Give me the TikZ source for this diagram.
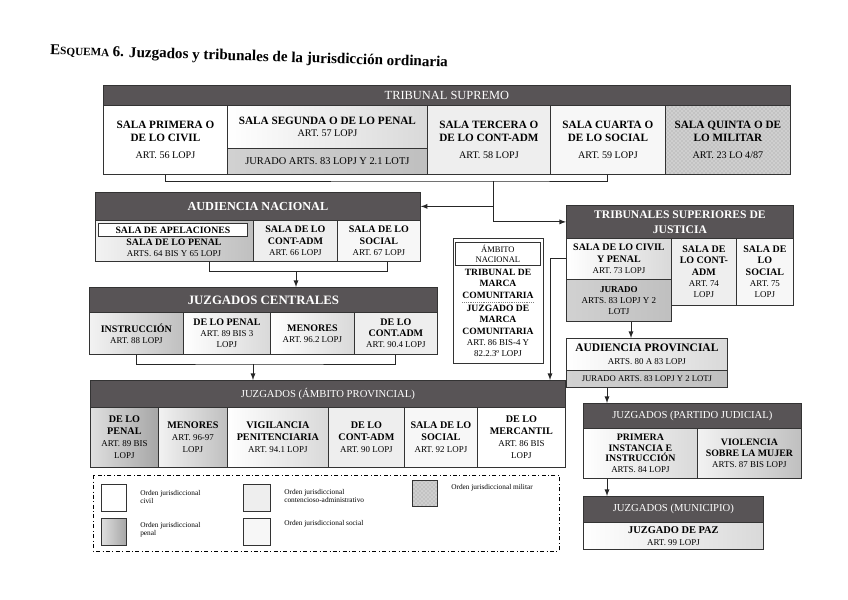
\documentclass[tikz,border=0pt]{standalone}
\usepackage{fontspec}
\setmainfont{Liberation Serif}
\usetikzlibrary{patterns,calc}

\definecolor{hdr}{RGB}{88,84,86}
\newcommand\artline[1]{{\fontsize{6.7}{7.6}\selectfont\mdseries #1}}
\newcommand\artlinets[1]{{\fontsize{7.6}{8.6}\selectfont\mdseries #1}}

\tikzset{
  box/.style={draw=black!80, line width=0.6pt, anchor=north west, inner sep=0.5pt, align=center, font=\fontsize{7.5}{8.4}\selectfont\bfseries},
  tsbox/.style={box, font=\fontsize{8.4}{9.6}\selectfont\bfseries},
  cw/.style={minimum width=#1*0.75pt},
  ch/.style={minimum height=#1*0.75pt},
  head/.style={box, fill=hdr, text=white, font=\fontsize{8}{9.4}\selectfont},
  civil/.style={fill=white},
  penal/.style={left color=gray!10, right color=gray!50},
  penaldark/.style={left color=gray!25, right color=gray!70},
  penallight/.style={left color=white, right color=gray!30},
  jurado/.style={left color=gray!36, right color=gray!50},
  contadm/.style={fill=gray!13},
  social/.style={fill=gray!6},
  militar/.style={preaction={fill=gray!38}, pattern=crosshatch dots, pattern color=gray!75},
  legtext/.style={anchor=west, align=left, inner sep=0pt, font=\fontsize{5.5}{6.3}\selectfont},
  link/.style={draw=black!85, line width=0.7pt},
  arr/.style={link, -latex},
}

\begin{document}
\begin{tikzpicture}[x=0.75pt,y=0.75pt,yscale=-1,xscale=1]
\useasboundingbox (0,0) rectangle (848,599);

% Title
\node [anchor=west, rotate=-1.8, inner sep=0pt, font=\bfseries] (title) at (50,51) {{\fontsize{11.3}{13}\selectfont E}{\fontsize{8.4}{13}\selectfont SQUEMA} {\fontsize{11.3}{13}\selectfont 6. Juzgados y tribunales de la jurisdicción ordinaria}};

% Tribunal Supremo
\node [head, cw=687, ch=20, font=\fontsize{9.3}{10}\selectfont] (ts) at (103,85) {TRIBUNAL SUPREMO};
\node [tsbox, civil, cw=124, ch=69] (ts1) at (103,105) {SALA PRIMERA O\\DE LO CIVIL\\[3pt]\artlinets{ART. 56 LOPJ}};
\node [tsbox, penallight, cw=200, ch=43] (ts2) at (227,105) {SALA SEGUNDA O DE LO PENAL\\\artlinets{ART. 57 LOPJ}};
\node [tsbox, jurado, cw=200, ch=26, font=\fontsize{7.8}{9}\selectfont] (ts2j) at (227,148) {JURADO ARTS. 83 LOPJ Y 2.1 LOTJ};
\node [tsbox, contadm, cw=123, ch=69] (ts3) at (427,105) {SALA TERCERA O\\DE LO CONT-ADM\\[3pt]\artlinets{ART. 58 LOPJ}};
\node [tsbox, social, cw=115, ch=69] (ts4) at (550,105) {SALA CUARTA O\\DE LO SOCIAL\\[3pt]\artlinets{ART. 59 LOPJ}};
\node [tsbox, militar, cw=125, ch=69] (ts5) at (665,105) {SALA QUINTA O DE\\LO MILITAR\\[3pt]\artlinets{ART. 23 LO 4/87}};

% Audiencia Nacional
\node [head, cw=325, ch=28, font=\fontsize{9.2}{10}\selectfont\bfseries] (an) at (95,192) {AUDIENCIA NACIONAL};
\node [box, penal, cw=158, ch=41] (an1) at (95,220) {};
\node [box, civil, cw=149, ch=13, inner sep=0pt, font=\fontsize{7.3}{8}\selectfont\bfseries] (an1a) at (98,223) {SALA DE APELACIONES};
\node [anchor=north, inner sep=0pt, align=center, font=\fontsize{7.4}{8}\selectfont\bfseries] (an1b) at (174,239) {SALA DE LO PENAL\\\artline{ARTS. 64 BIS Y 65 LOPJ}};
\node [box, contadm, cw=84, ch=41] (an2) at (253,220) {SALA DE LO\\CONT-ADM\\\artline{ART. 66 LOPJ}};
\node [box, social, cw=83, ch=41] (an3) at (337,220) {SALA DE LO\\SOCIAL\\\artline{ART. 67 LOPJ}};

% Juzgados centrales
\node [head, cw=348, ch=25, font=\fontsize{9.6}{10}\selectfont\bfseries] (jc) at (89,287) {JUZGADOS CENTRALES};
\node [box, penal, cw=94, ch=42] (jc1) at (89,312) {INSTRUCCIÓN\\\artline{ART. 88 LOPJ}};
\node [box, penallight, cw=87, ch=42] (jc2) at (183,312) {DE LO PENAL\\\artline{ART. 89 BIS 3}\\\artline{LOPJ}};
\node [box, penallight, cw=84, ch=42] (jc3) at (270,312) {MENORES\\\artline{ART. 96.2 LOPJ}};
\node [box, contadm, cw=83, ch=42] (jc4) at (354,312) {DE LO\\CONT.ADM\\\artline{ART. 90.4 LOPJ}};

% Ambito nacional
\node [box, civil, cw=90, ch=125] (amb) at (453,238) {};
\node [box, civil, cw=85, ch=23, font=\fontsize{6.4}{7.6}\selectfont] (amb1) at (455,242) {ÁMBITO\\NACIONAL};
\node [anchor=north, inner sep=0pt, align=center, font=\fontsize{7.2}{8.5}\selectfont\bfseries] (amb2) at (498,269) {TRIBUNAL DE\\MARCA\\COMUNITARIA};
\node [anchor=north, inner sep=0pt, align=center, font=\fontsize{7.2}{8.5}\selectfont\bfseries] (amb3) at (498,305) {JUZGADO DE\\MARCA\\COMUNITARIA\\\artline{ART. 86 BIS-4 Y}\\\artline{82.2.3º LOPJ}};
\draw [densely dotted, gray] ($(amb2.south west)+(0,3.5)$) -- ($(amb2.south east)+(0,3.5)$);

% Tribunales superiores de justicia
\node [head, cw=227, ch=33, font=\fontsize{8.7}{11}\selectfont\bfseries] (tsj) at (566,205) {TRIBUNALES SUPERIORES DE\\JUSTICIA};
\node [box, penallight, cw=105, ch=41] (tsj1) at (566,238) {SALA DE LO CIVIL\\Y PENAL\\\artline{ART. 73 LOPJ}};
\node [box, jurado, cw=105, ch=42, font=\fontsize{6.8}{8.2}\selectfont] (tsj1j) at (566,279) {\textbf{JURADO}\\ARTS. 83 LOPJ Y 2\\LOTJ};
\node [box, contadm, cw=65, ch=67] (tsj2) at (671,238) {SALA DE\\LO CONT-\\ADM\\\artline{ART. 74}\\\artline{LOPJ}};
\node [box, social, cw=57, ch=67] (tsj3) at (736,238) {SALA DE\\LO\\SOCIAL\\\artline{ART. 75}\\\artline{LOPJ}};

% Audiencia provincial
\node [box, penallight, cw=161, ch=32, font=\fontsize{8.6}{9.6}\selectfont\bfseries] (ap) at (566,338) {AUDIENCIA PROVINCIAL\\\artline{ARTS. 80 A 83 LOPJ}};
\node [box, jurado, cw=161, ch=17, font=\fontsize{6.5}{7.5}\selectfont] (apj) at (566,370) {JURADO ARTS. 83 LOPJ Y 2 LOTJ};

% Juzgados partido judicial
\node [head, cw=218, ch=25] (jpj) at (583,403) {JUZGADOS (PARTIDO JUDICIAL)};
\node [box, penallight, cw=114, ch=50, font=\fontsize{7.4}{8}\selectfont\bfseries] (jpj1) at (583,428) {PRIMERA\\INSTANCIA E\\INSTRUCCIÓN\\\artline{ARTS. 84 LOPJ}};
\node [box, penal, cw=104, ch=50, font=\fontsize{7.4}{8.4}\selectfont\bfseries] (jpj2) at (697,428) {VIOLENCIA\\SOBRE LA MUJER\\\artline{ARTS. 87 BIS LOPJ}};

% Juzgados municipio
\node [head, cw=180, ch=26] (jm) at (583,496) {JUZGADOS (MUNICIPIO)};
\node [box, penallight, cw=180, ch=27, font=\fontsize{7.8}{8.6}\selectfont\bfseries] (jm1) at (583,522) {JUZGADO DE PAZ\\\artline{ART. 99 LOPJ}};

% Juzgados ambito provincial
\node [head, cw=475, ch=27] (jap) at (90,380) {JUZGADOS (ÁMBITO PROVINCIAL)};
\node [box, penaldark, cw=68, ch=60, font=\fontsize{7.6}{9}\selectfont\bfseries] (jap1) at (90,407) {DE LO\\PENAL\\\artline{ART. 89 BIS}\\\artline{LOPJ}};
\node [box, penal, cw=69, ch=60, font=\fontsize{7.6}{9}\selectfont\bfseries] (jap2) at (158,407) {MENORES\\\artline{ART. 96-97}\\\artline{LOPJ}};
\node [box, penallight, cw=101, ch=60, font=\fontsize{7.6}{9}\selectfont\bfseries] (jap3) at (227,407) {VIGILANCIA\\PENITENCIARIA\\\artline{ART. 94.1 LOPJ}};
\node [box, contadm, cw=76, ch=60, font=\fontsize{7.6}{9}\selectfont\bfseries] (jap4) at (328,407) {DE LO\\CONT-ADM\\\artline{ART. 90 LOPJ}};
\node [box, social, cw=73, ch=60, font=\fontsize{7.6}{9}\selectfont\bfseries] (jap5) at (404,407) {SALA DE LO\\SOCIAL\\\artline{ART. 92 LOPJ}};
\node [box, civil, cw=88, ch=60, font=\fontsize{7.6}{9}\selectfont\bfseries] (jap6) at (477,407) {DE LO\\MERCANTIL\\\artline{ART. 86 BIS}\\\artline{LOPJ}};

% Connectors
\coordinate (tsM) at (493,181);
\draw [link] (ts1.south) |- (tsM) -| (ts4.south);
\draw [arr] (tsM) |- (tsj.west);
\draw [arr] (tsM |- an.east) -- (an.east);

\coordinate (anL) at (209,271);
\coordinate (anR) at (387,271);
\coordinate (anM) at (296,271);
\draw [link] (anL |- an1.south) -- (anL) -- (anR) -- (anR |- an3.south);
\draw [arr] (anM) -- (anM |- jc.north);

\coordinate (jcM) at (253,364);
\draw [link] (jc1.south) |- (jcM) -| (jc4.south);
\draw [arr] (jcM) -- (jcM |- jap.north);

\coordinate (tsjL) at (550,300);
\draw [arr] (tsj1.west) -| (tsjL |- jap.north);
\coordinate (tsjM) at (631,330);
\draw [arr] (tsjM |- tsj1j.south) -- (tsjM |- ap.north);
\coordinate (apM) at (607,395);
\draw [arr] (apM |- apj.south) -- (apM |- jpj.north);
\draw [arr] (apM |- jpj1.south) -- (apM |- jm.north);

% Legend
\draw [dash dot, line width=0.6pt] (93,475) rectangle (559,551);
\node [box, civil, cw=25, ch=27] (lg1) at (101,484) {};
\node [legtext] (lg1t) at (140,497) {Orden jurisdiccional\\civil};
\node [box, penaldark, cw=25, ch=27] (lg2) at (101,518) {};
\node [legtext] (lg2t) at (140,530) {Orden jurisdiccional\\penal};
\node [box, contadm, cw=27, ch=27] (lg3) at (243,484) {};
\node [legtext] (lg3t) at (284,496) {Orden jurisdiccional\\contencioso-administrativo};
\node [box, social, cw=27, ch=27] (lg4) at (243,518) {};
\node [legtext] (lg4t) at (284,524) {Orden jurisdiccional social};
\node [box, militar, cw=25, ch=26] (lg5) at (412,480) {};
\node [legtext] (lg5t) at (451,488) {Orden jurisdiccional militar};

\end{tikzpicture}
\end{document}
